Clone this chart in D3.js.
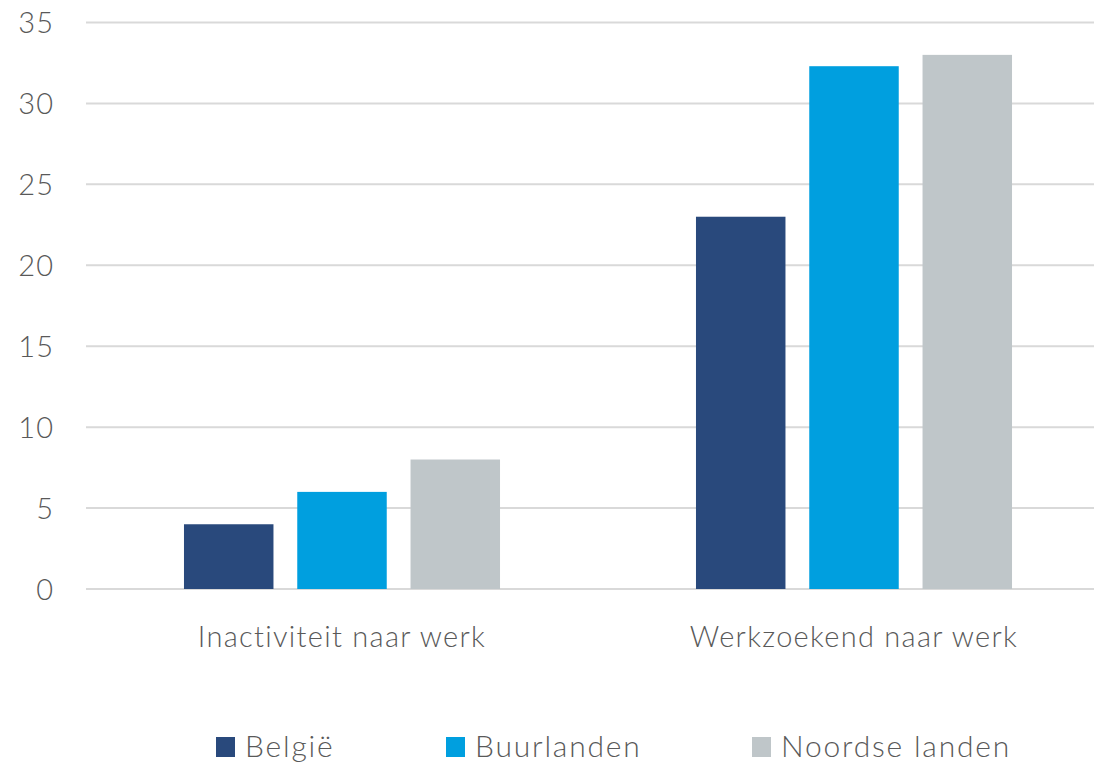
<!DOCTYPE html>
<html>
<head>
<meta charset="utf-8">
<script src="https://cdn.jsdelivr.net/npm/d3@7"></script>
<style>
  html, body { margin: 0; padding: 0; background: #fff; }
  text { font-family: "Lato", "Open Sans", sans-serif; font-weight: 300; fill: #595959; }
</style>
</head>
<body>
<div id="chart"></div>
<script>
const categories = ["Inactiviteit naar werk", "Werkzoekend naar werk"];
const seriesNames = ["België", "Buurlanden", "Noordse landen"];
const belgie = [4, 23];
const buurlanden = [6, 32.3];
const noordseLanden = [8, 33];
const yTicks = [0, 5, 10, 15, 20, 25, 30, 35];
const colors = ["#29497c", "#009fdf", "#bfc6c9"];

const width = 1094;
const height = 763;

const series = [belgie, buurlanden, noordseLanden];
const data = categories.map((c, i) => ({
  cat: c,
  values: seriesNames.map((s, j) => ({ key: s, value: series[j][i], color: colors[j] }))
}));

const svg = d3.select("#chart").append("svg")
  .attr("width", width)
  .attr("height", height);

const x0 = d3.scaleBand().domain(categories).range([86, 1110]);
const x1 = d3.scaleBand().domain(seriesNames)
  .range([0, x0.bandwidth()])
  .paddingInner(0.21)
  .paddingOuter(0.865);
const y = d3.scaleLinear().domain([0, 35]).range([589, 22.5]);

// rasterlijnen
svg.append("g")
  .selectAll("line")
  .data(yTicks)
  .join("line")
  .attr("x1", 86)
  .attr("x2", width)
  .attr("y1", (d) => y(d))
  .attr("y2", (d) => y(d))
  .attr("stroke", "#d9d9d9")
  .attr("stroke-width", 2);

// y-as labels
svg.append("g")
  .selectAll("text")
  .data(yTicks)
  .join("text")
  .attr("x", 54)
  .attr("y", (d) => y(d) + 10.5)
  .attr("text-anchor", "end")
  .attr("font-size", 29)
  .attr("letter-spacing", 1)
  .text((d) => d);

// staven
svg.append("g")
  .selectAll("g")
  .data(data)
  .join("g")
  .attr("transform", (d) => `translate(${x0(d.cat)},0)`)
  .selectAll("rect")
  .data((d) => d.values)
  .join("rect")
  .attr("x", (d) => x1(d.key))
  .attr("width", x1.bandwidth())
  .attr("y", (d) => y(d.value))
  .attr("height", (d) => y(0) - y(d.value))
  .attr("fill", (d) => d.color);

// x-as labels
svg.append("g")
  .selectAll("text")
  .data(categories)
  .join("text")
  .attr("x", (d) => x0(d) + x1("Buurlanden") + x1.bandwidth() / 2)
  .attr("y", 647)
  .attr("text-anchor", "middle")
  .attr("font-size", 29)
  .attr("letter-spacing", 1.3)
  .text((d) => d);

// legenda
const legendX = [216, 446, 752];
const legend = svg.append("g")
  .selectAll("g")
  .data(seriesNames)
  .join("g")
  .attr("transform", (d, i) => `translate(${legendX[i]},737)`);

legend.append("rect")
  .attr("width", 19)
  .attr("height", 20)
  .attr("fill", (d, i) => colors[i]);

legend.append("text")
  .attr("x", 29)
  .attr("y", 20)
  .attr("font-size", 30)
  .attr("letter-spacing", 1.8)
  .text((d) => d);
</script>
</body>
</html>
